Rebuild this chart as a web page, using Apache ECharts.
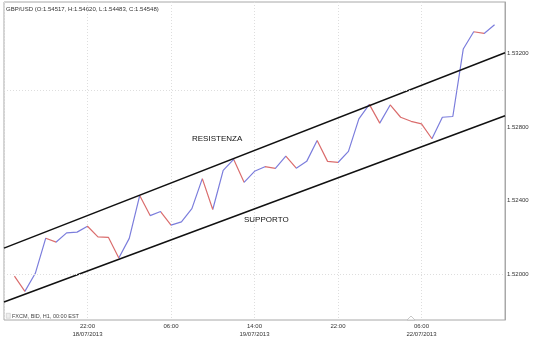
<!DOCTYPE html>
<html>
<head>
<meta charset="utf-8">
<script src="https://cdn.jsdelivr.net/npm/echarts@6/dist/echarts.min.js"></script>
<style>html,body{margin:0;padding:0;background:#fff}#c{width:533px;height:338px}</style>
</head>
<body>
<div id="c"></div>
<script>
// Hourly bars (H1)
const categories = [
  '18/07/2013 15:00','18/07/2013 16:00','18/07/2013 17:00','18/07/2013 18:00','18/07/2013 19:00',
  '18/07/2013 20:00','18/07/2013 21:00','18/07/2013 22:00','18/07/2013 23:00',
  '19/07/2013 00:00','19/07/2013 01:00','19/07/2013 02:00','19/07/2013 03:00','19/07/2013 04:00',
  '19/07/2013 05:00','19/07/2013 06:00','19/07/2013 07:00','19/07/2013 08:00','19/07/2013 09:00',
  '19/07/2013 10:00','19/07/2013 11:00','19/07/2013 12:00','19/07/2013 13:00','19/07/2013 14:00',
  '19/07/2013 15:00','19/07/2013 16:00','19/07/2013 17:00','19/07/2013 18:00','19/07/2013 19:00',
  '19/07/2013 20:00','19/07/2013 21:00','19/07/2013 22:00','19/07/2013 23:00',
  '22/07/2013 00:00','22/07/2013 01:00','22/07/2013 02:00','22/07/2013 03:00','22/07/2013 04:00',
  '22/07/2013 05:00','22/07/2013 06:00','22/07/2013 07:00','22/07/2013 08:00','22/07/2013 09:00',
  '22/07/2013 10:00','22/07/2013 11:00','22/07/2013 12:00','22/07/2013 13:00'
];
const prices = [
  1.51989, 1.51906, 1.52004, 1.52195, 1.52174, 1.52224, 1.52228, 1.52260, 1.52202,
  1.52200, 1.52087, 1.52194, 1.52427, 1.52318, 1.52340, 1.52266, 1.52284, 1.52356,
  1.52519, 1.52351, 1.52564, 1.52624, 1.52499, 1.52559, 1.52584, 1.52575, 1.52642,
  1.52576, 1.52613, 1.52727, 1.52613, 1.52607, 1.52667, 1.52844, 1.52923, 1.52821,
  1.52920, 1.52853, 1.52831, 1.52817, 1.52736, 1.52853, 1.52857, 1.53224, 1.53318,
  1.53309, 1.53356
];
// channel lines: value at left edge and right edge of the plot
const resistance = [1.52141, 1.53204];
const support = [1.51848, 1.52861];
const tickLabels = ['22:00\n18/07/2013', '06:00', '14:00\n19/07/2013', '22:00', '06:00\n22/07/2013'];
const yTicks = [1.520, 1.524, 1.528, 1.532];

const anchor = categories.indexOf('18/07/2013 22:00');
const xMin = -8, xMax = 40;
const priceData = prices.map((v, i) => [i - anchor, v]);

const UP = '#7b7ddc', DOWN = '#da6d6d';
const pieces = [];
for (let i = 0; i < priceData.length - 1; i++) {
  const p = { lte: priceData[i + 1][0], color: prices[i + 1] >= prices[i] ? UP : DOWN };
  if (i === 0) p.gte = priceData[i][0]; else p.gt = priceData[i][0];
  pieces.push(p);
}

const FONT = 'Liberation Sans, Arial, Helvetica, sans-serif';
const chart = echarts.init(document.getElementById('c'), null, { renderer: 'canvas' });
chart.setOption({
  backgroundColor: '#fff',
  animation: false,
  grid: { left: 4, right: 28, top: 2, bottom: 17, show: true, borderColor: '#a8a8a8', borderWidth: 1, containLabel: false },
  xAxis: {
    type: 'value', min: xMin, max: xMax, interval: 8,
    axisLine: { show: false, onZero: false }, axisTick: { show: false },
    splitLine: { show: true, lineStyle: { color: '#dedede', type: [1, 2], width: 1 } },
    axisLabel: {
      margin: 2, fontSize: 6, lineHeight: 8, color: '#333', fontFamily: FONT,
      formatter: v => tickLabels[v / 8] || ''
    }
  },
  yAxis: {
    type: 'value', position: 'right', min: 1.5175, max: 1.5348, interval: 0.0005, scale: true,
    axisLine: { show: true, onZero: false, lineStyle: { color: '#a8a8a8' } }, axisTick: { show: false },
    splitLine: { show: false },
    axisLabel: {
      margin: 2, fontSize: 6, color: '#333', fontFamily: FONT,
      formatter: v => yTicks.some(t => Math.abs(t - v) < 1e-7) ? v.toFixed(5) : ''
    }
  },
  visualMap: { type: 'piecewise', show: false, dimension: 0, seriesIndex: 0, pieces: pieces, outOfRange: { color: UP } },
  series: [
    {
      type: 'line', data: priceData, showSymbol: false, symbol: 'none',
      lineStyle: { width: 1.2 }, z: 3,
      markLine: {
        silent: true, symbol: 'none', label: { show: false },
        lineStyle: { color: '#dedede', type: [1, 2], width: 1 },
        data: yTicks.map(t => ({ yAxis: t }))
      }
    },
    { type: 'line', data: [[xMin, resistance[0]], [xMax, resistance[1]]], showSymbol: false, symbol: 'none', lineStyle: { color: '#111', width: 1.5 }, z: 4 },
    { type: 'line', data: [[xMin, support[0]], [xMax, support[1]]], showSymbol: false, symbol: 'none', lineStyle: { color: '#111', width: 1.5 }, z: 4 }
  ],
  graphic: [
    { type: 'text', left: 6, top: 6, style: { text: 'GBP/USD (O:1.54517, H:1.54620, L:1.54483, C:1.54548)', fontSize: 6, fill: '#333', fontFamily: FONT } },
    { type: 'text', left: 192, top: 135, style: { text: 'RESISTENZA', fontSize: 8, fill: '#111', fontFamily: FONT } },
    { type: 'text', left: 244, top: 216, style: { text: 'SUPPORTO', fontSize: 8, fill: '#111', fontFamily: FONT } },
    { type: 'rect', left: 6, top: 313, shape: { width: 4, height: 5 }, style: { fill: '#eee', stroke: '#bbb', lineWidth: 0.5 } },
    { type: 'text', left: 12, top: 313, style: { text: 'FXCM, BID, H1, 00:00 EST', fontSize: 5.5, fill: '#444', fontFamily: FONT } },
    { type: 'polygon', shape: { points: [[407, 320], [411, 316], [415, 320]] }, style: { fill: '#fff', stroke: '#bbb', lineWidth: 0.8 } }
  ]
});
</script>
</body>
</html>
